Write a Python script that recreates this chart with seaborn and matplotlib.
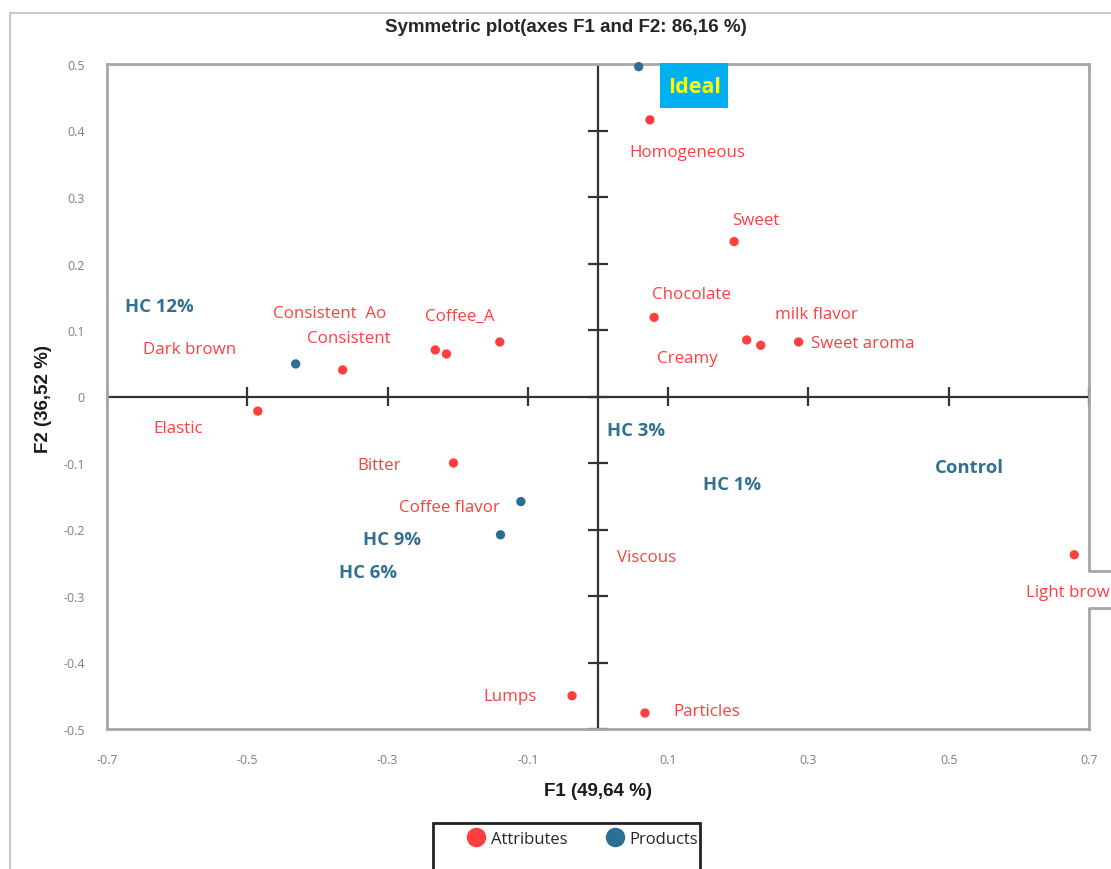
import matplotlib
matplotlib.use("Agg")
import matplotlib.pyplot as plt
from matplotlib.lines import Line2D
from matplotlib.patches import Rectangle
import pandas as pd
import seaborn as sns

# ---- data -------------------------------------------------------------
attr_names = ["Homogeneous", "Sweet", "Chocolate", "Creamy", "milk flavor",
              "Sweet aroma", "Coffee_A", "Consistent  Ao", "Consistent",
              "Dark brown", "Elastic", "Bitter", "Light brown", "Lumps",
              "Particles"]
attr_f1 = [0.074, 0.194, 0.080, 0.212, 0.232, 0.286, -0.140, -0.232, -0.216,
           -0.364, -0.485, -0.206, 0.679, -0.037, 0.067]
attr_f2 = [0.416, 0.233, 0.119, 0.085, 0.077, 0.082, 0.082, 0.070, 0.064,
           0.040, -0.022, -0.100, -0.238, -0.450, -0.476]

prod_names = ["Ideal", "HC 12%", "HC 9%", "HC 6%"]
prod_f1 = [0.058, -0.431, -0.110, -0.139]
prod_f2 = [0.496, 0.049, -0.158, -0.208]

x_ticks = [-0.7, -0.5, -0.3, -0.1, 0.1, 0.3, 0.5, 0.7]
y_ticks = [-0.5, -0.4, -0.3, -0.2, -0.1, 0.0, 0.1, 0.2, 0.3, 0.4, 0.5]

# label placement (data coordinates, alignment)
attr_labels = {
    "Homogeneous": (0.127, 0.368, "center"),
    "Sweet": (0.225, 0.265, "center"),
    "Chocolate": (0.133, 0.154, "center"),
    "Creamy": (0.127, 0.058, "center"),
    "milk flavor": (0.312, 0.124, "center"),
    "Sweet aroma": (0.304, 0.080, "left"),
    "Coffee_A": (-0.197, 0.121, "center"),
    "Consistent  Ao": (-0.382, 0.125, "center"),
    "Consistent": (-0.355, 0.088, "center"),
    "Dark brown": (-0.583, 0.071, "center"),
    "Elastic": (-0.599, -0.047, "center"),
    "Bitter": (-0.312, -0.103, "center"),
    "Coffee flavor": (-0.212, -0.166, "center"),
    "Viscous": (0.070, -0.241, "center"),
    "Light brown": (0.610, -0.294, "left"),
    "Lumps": (-0.125, -0.450, "center"),
    "Particles": (0.155, -0.473, "center"),
}
prod_labels = {
    "HC 12%": (-0.626, 0.136),
    "HC 3%": (0.054, -0.050),
    "HC 1%": (0.191, -0.132),
    "Control": (0.529, -0.106),
    "HC 9%": (-0.294, -0.214),
    "HC 6%": (-0.328, -0.264),
}

RED = "#FF3F3F"
BLUE = "#2C6E94"
LABEL_BLUE = "#31708F"
BOLD_FAMILY = ["Liberation Sans Narrow", "Liberation Sans", "DejaVu Sans"]

sns.set_style("white")
plt.rcParams["font.family"] = ["Open Sans", "DejaVu Sans"]
plt.rcParams["axes.unicode_minus"] = False

W, H = 1111, 870
fig = plt.figure(figsize=(W / 100, H / 100), dpi=100)
ax = fig.add_axes([107 / W, 1 - 730 / H, (1089 - 107) / W, (730 - 65) / H])

df = pd.concat([
    pd.DataFrame({"F1": attr_f1, "F2": attr_f2, "type": "Attributes"}),
    pd.DataFrame({"F1": prod_f1, "F2": prod_f2, "type": "Products"}),
], ignore_index=True)

sns.scatterplot(data=df, x="F1", y="F2", hue="type",
                palette={"Attributes": RED, "Products": BLUE},
                s=45, edgecolor="none", legend=False, ax=ax, zorder=4,
                clip_on=False)

ax.set_xlim(-0.7, 0.7)
ax.set_ylim(-0.5, 0.5)
ax.set_xticks(x_ticks)
ax.set_yticks(y_ticks)
ax.set_xticklabels([f"{v:g}" for v in x_ticks])
ax.set_yticklabels([f"{v:g}" for v in y_ticks])
ax.tick_params(length=0, labelsize=9, labelcolor="#7F7F7F")
ax.tick_params(axis="x", pad=17)
ax.tick_params(axis="y", pad=16)
for s in ax.spines.values():
    s.set_color("#A6A6A6")
    s.set_linewidth(2)
ax.set_xlabel("")
ax.set_ylabel("")

fig.text(598 / W, 1 - 792 / H, "F1 (49,64 %)", fontsize=13.5,
         fontweight="bold", ha="center", va="center", color="#1A1A1A",
         family=BOLD_FAMILY)
fig.text(44 / W, 1 - 399 / H, "F2 (36,52 %)", fontsize=13.5,
         fontweight="bold", ha="center", va="center", rotation=90,
         color="#1A1A1A", family=BOLD_FAMILY)

# central axes through the origin with crossing ticks
ax.axhline(0, color="#333333", lw=1.6, zorder=2)
ax.axvline(0, color="#333333", lw=1.6, zorder=2)
ax.vlines(x_ticks, -0.015, 0.015, color="#333333", lw=1.6, zorder=2)
ax.hlines(y_ticks, -0.0143, 0.0143, color="#333333", lw=1.6, zorder=2)

# break in the right frame where the outlying label sits
ax.add_patch(Rectangle((1085 / W, 1 - 609 / H), 8 / W, 37 / H,
                       facecolor="white", edgecolor="none", zorder=5,
                       transform=fig.transFigure, clip_on=False))
for yy in (572, 609):
    ax.add_line(Line2D([1089 / W, 1.0], [1 - yy / H, 1 - yy / H],
                       color="#A6A6A6", lw=2, zorder=5,
                       transform=fig.transFigure, clip_on=False))

# attribute and product labels
for name, (lx, ly, ha) in attr_labels.items():
    ax.text(lx, ly, name, color=RED, fontsize=12.2, ha=ha, va="center",
            zorder=6, clip_on=False)
for name, (lx, ly) in prod_labels.items():
    ax.text(lx, ly, name, color=LABEL_BLUE, fontsize=13.3, fontweight="bold",
            ha="center", va="center", zorder=6)

# highlighted ideal product
ax.add_patch(Rectangle((0.089, 0.434), 0.097, 0.068, facecolor="#00B0F0",
                       edgecolor="none", zorder=3, clip_on=False))
ax.text(0.1375, 0.466, "Ideal", color="#FFFF00", fontsize=15.5,
        fontweight="bold", ha="center", va="center", zorder=5)

# outer chart frame
fig.add_artist(Line2D([10 / W, 10 / W], [0, 1 - 14 / H], color="#C8C8C8", lw=1.5))
fig.add_artist(Line2D([10 / W, 1.0], [1 - 14 / H, 1 - 14 / H], color="#C8C8C8", lw=1.5))

fig.text(566 / W, 1 - 28 / H, "Symmetric plot(axes F1 and F2: 86,16 %)",
         fontsize=13.5, fontweight="bold", ha="center", va="center",
         color="#262626", family=BOLD_FAMILY)

# legend box
fig.add_artist(Rectangle((433 / W, -0.05), (700 - 433) / W, 0.05 + 1 - 824 / H,
                         facecolor="white", edgecolor="#222222", lw=2,
                         transform=fig.transFigure, zorder=1))
handles = [Line2D([], [], marker="o", ls="none", color=RED, markersize=13),
           Line2D([], [], marker="o", ls="none", color=BLUE, markersize=13)]
fig.legend(handles, ["Attributes", "Products"], loc="center left",
           bbox_to_anchor=(458 / W, 1 - 840 / H), ncol=2, frameon=False,
           fontsize=12, handletextpad=0.3, columnspacing=2.2,
           handlelength=1.2, borderpad=0)

fig.savefig("out.png", dpi=100)
